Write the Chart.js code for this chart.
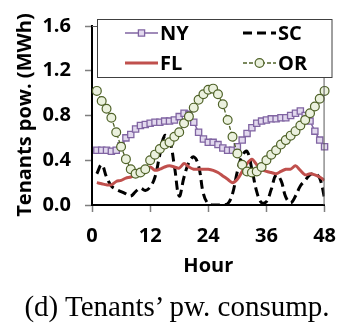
<!DOCTYPE html>
<html>
<head>
<meta charset="utf-8">
<script src="https://cdn.jsdelivr.net/npm/chart.js@4"></script>
<style>
    html, body { margin: 0; padding: 0; background: #fff; }
    #wrap { position: relative; width: 348px; height: 324px; }
    #caption {
        position: absolute; left: 3px; top: 292px; width: 348px;
        text-align: center; white-space: nowrap; color: #000;
        font: 29px "Liberation Serif", "Times New Roman", serif; line-height: 28px;
    }
</style>
</head>
<body>
<div id="wrap">
    <canvas id="chart" width="348" height="324"></canvas>
    <div id="caption">(d) Tenants’ pw. consump.</div>
</div>
<script>
hours = [1, 2, 3, 4, 5, 6, 7, 8, 9, 10, 11, 12, 13, 14, 15, 16, 17, 18, 19, 20, 21, 22, 23, 24,
    25, 26, 27, 28, 29, 30, 31, 32, 33, 34, 35, 36, 37, 38, 39, 40, 41, 42, 43, 44, 45, 46, 47, 48];
hourTicks = [0, 12, 24, 36, 48];
powerTicks = [0.0, 0.4, 0.8, 1.2, 1.6];

powerNY = [0.49, 0.49, 0.49, 0.48, 0.49, 0.53, 0.60, 0.63, 0.68, 0.71, 0.72, 0.73, 0.74, 0.74, 0.75, 0.75,
    0.76, 0.79, 0.82, 0.81, 0.74, 0.65, 0.59, 0.56, 0.56, 0.54, 0.51, 0.49, 0.49, 0.52, 0.58, 0.64,
    0.69, 0.73, 0.75, 0.76, 0.77, 0.77, 0.78, 0.78, 0.80, 0.82, 0.84, 0.80, 0.75, 0.66, 0.58, 0.52];
powerSC = [0.28, 0.36, 0.25, 0.17, 0.14, 0.12, 0.10, 0.08, 0.12, 0.15, 0.13, 0.16, 0.25, 0.45, 0.62, 0.58,
    0.35, 0.08, 0.25, 0.38, 0.43, 0.35, 0.10, 0.01, 0.00, 0.00, 0.00, 0.01, 0.10, 0.30, 0.44, 0.48,
    0.32, 0.12, 0.02, 0.03, 0.14, 0.27, 0.22, 0.07, 0.02, 0.08, 0.17, 0.22, 0.27, 0.28, 0.24, 0.06];
powerFL = [0.20, 0.19, 0.18, 0.18, 0.21, 0.22, 0.24, 0.25, 0.27, 0.28, 0.30, 0.34, 0.31, 0.32, 0.34, 0.35,
    0.34, 0.33, 0.37, 0.34, 0.32, 0.32, 0.32, 0.32, 0.31, 0.29, 0.26, 0.23, 0.20, 0.23, 0.30, 0.37,
    0.41, 0.36, 0.32, 0.30, 0.29, 0.28, 0.30, 0.32, 0.32, 0.35, 0.31, 0.27, 0.28, 0.27, 0.25, 0.22];
powerOR = [1.02, 0.93, 0.86, 0.78, 0.65, 0.52, 0.41, 0.32, 0.28, 0.29, 0.32, 0.40, 0.45, 0.50, 0.54, 0.56,
    0.61, 0.65, 0.73, 0.79, 0.87, 0.94, 0.99, 1.03, 1.04, 0.99, 0.90, 0.76, 0.61, 0.46, 0.36, 0.30,
    0.29, 0.30, 0.34, 0.40, 0.45, 0.49, 0.54, 0.58, 0.62, 0.66, 0.71, 0.76, 0.82, 0.88, 0.95, 1.02];

boldFont = { family: "'Open Sans', 'Liberation Sans', sans-serif", weight: 'bold', size: 20 };

// legend slots: [dataset index, x of sample line, y of row]
legendSlots = [[0, 125, 33], [1, 243, 33], [2, 125, 63], [3, 243, 63]];

const framePlugin = {
    id: 'frame',
    afterDraw(chart) {
        const ctx = chart.ctx;
        const a = chart.chartArea;
        ctx.save();

        // thin frame on top and right of the plot
        ctx.strokeStyle = '#595959';
        ctx.lineWidth = 1;
        ctx.beginPath();
        ctx.moveTo(a.left, a.top + 0.5);
        ctx.lineTo(a.right - 0.5, a.top + 0.5);
        ctx.lineTo(a.right - 0.5, a.bottom);
        ctx.stroke();

        // boxed legend in the upper part of the plot
        ctx.fillStyle = '#fff';
        ctx.fillRect(97, 19.5, 235, 58);
        ctx.strokeStyle = '#404040';
        ctx.strokeRect(97.5, 19.5, 234.5, 58);

        ctx.font = 'bold 20px "Open Sans", "Liberation Sans", sans-serif';
        ctx.textBaseline = 'middle';
        ctx.textAlign = 'left';
        legendSlots.forEach(([i, x, y]) => {
            const ds = chart.data.datasets[i];
            ctx.save();
            ctx.strokeStyle = ds.borderColor;
            ctx.lineWidth = ds.borderWidth;
            ctx.setLineDash(ds.borderDash || []);
            ctx.beginPath();
            ctx.moveTo(x, y);
            ctx.lineTo(x + 33, y);
            ctx.stroke();
            if (ds.pointRadius > 0) {
                ctx.setLineDash([]);
                ctx.fillStyle = ds.pointBackgroundColor;
                ctx.strokeStyle = ds.pointBorderColor;
                ctx.lineWidth = ds.pointBorderWidth;
                Chart.helpers.drawPoint(ctx, {
                    pointStyle: ds.pointStyle, radius: ds.pointRadius,
                    rotation: 0, borderWidth: ds.pointBorderWidth
                }, x + 16.5, y);
            }
            ctx.restore();
            ctx.fillStyle = '#000';
            ctx.fillText(ds.label, x + 35, y + 1);
        });

        // y axis title
        ctx.translate(25, 115);
        ctx.rotate(-Math.PI / 2);
        ctx.textAlign = 'center';
        ctx.fillText('Tenants pow. (MWh)', 0, 0);
        ctx.restore();
    }
};

new Chart(document.getElementById('chart'), {
    type: 'line',
    data: {
        labels: hours,
        datasets: [{
            label: 'NY',
            data: powerNY,
            borderColor: '#8064a2',
            borderWidth: 1.5,
            pointStyle: 'rect',
            pointRadius: 4.4,
            pointBackgroundColor: '#e2d9ee',
            pointBorderColor: '#8064a2',
            pointBorderWidth: 1.3,
            tension: 0,
            clip: false,
            order: 3
        }, {
            label: 'SC',
            data: powerSC,
            borderColor: '#000',
            borderWidth: 3,
            borderDash: [9, 5],
            pointRadius: 0,
            tension: 0.4,
            order: 2
        }, {
            label: 'FL',
            data: powerFL,
            borderColor: '#c0504d',
            borderWidth: 3,
            pointRadius: 0,
            tension: 0.3,
            order: 1
        }, {
            label: 'OR',
            data: powerOR,
            borderColor: '#4f6228',
            borderWidth: 1.3,
            borderDash: [4, 2],
            pointStyle: 'circle',
            pointRadius: 4.4,
            pointBackgroundColor: '#ebf1de',
            pointBorderColor: '#4f6228',
            pointBorderWidth: 1.2,
            clip: false,
            order: 0
        }]
    },
    options: {
        responsive: false,
        animation: false,
        devicePixelRatio: 1,
        layout: { padding: { top: 13, right: 13, left: 0, bottom: 46 } },
        plugins: {
            legend: { display: false },
            tooltip: { enabled: false }
        },
        scales: {
            x: {
                type: 'linear',
                min: 0,
                max: 48,
                afterFit: scale => { scale.height = 73; },
                afterBuildTicks: scale => { scale.ticks = hourTicks.map(v => ({ value: v })); },
                ticks: { font: boldFont, color: '#000', padding: 12, maxRotation: 0 },
                grid: { drawOnChartArea: false, drawTicks: true, tickLength: 7, tickWidth: 1.5, tickColor: '#7f7f7f' },
                border: { color: '#000', width: 2 },
                title: { display: true, text: 'Hour', font: boldFont, color: '#000', padding: { top: 0, bottom: 0 } }
            },
            y: {
                min: 0,
                max: 1.6,
                afterFit: scale => { scale.width = 92; },
                afterBuildTicks: scale => { scale.ticks = powerTicks.map(v => ({ value: v })); },
                ticks: { font: boldFont, color: '#000', padding: 14, callback: v => v.toFixed(1) },
                grid: { drawOnChartArea: false, drawTicks: true, tickLength: 7, tickWidth: 1.5, tickColor: '#7f7f7f' },
                border: { color: '#000', width: 2 }
            }
        }
    },
    plugins: [framePlugin]
});
</script>
</body>
</html>
